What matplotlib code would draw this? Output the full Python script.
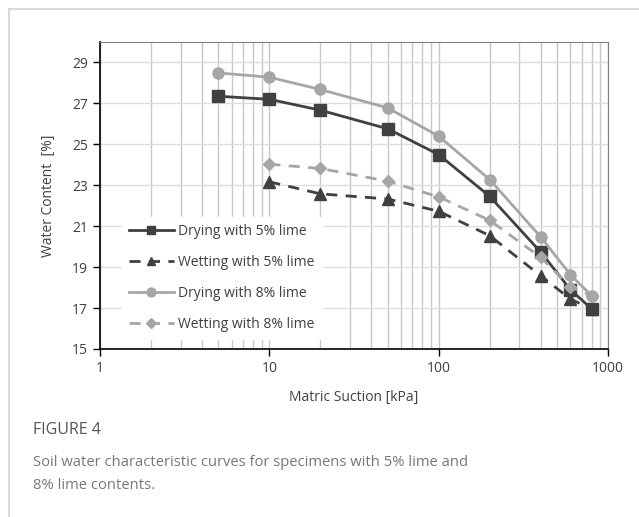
import matplotlib.pyplot as plt
from matplotlib.lines import Line2D
from matplotlib.ticker import FixedLocator, NullFormatter

# matric suction [kPa]
suction_dry = [5, 10, 20, 50, 100, 200, 400, 600, 800]
suction_wet = [10, 20, 50, 100, 200, 400, 600, 800]

# water content [%]
dry5 = [27.35, 27.2, 26.67, 25.76, 24.5, 22.46, 19.74, 17.9, 16.96]
wet5 = [23.17, 22.58, 22.33, 21.73, 20.54, 18.58, 17.44, 16.96]
dry8 = [28.49, 28.28, 27.68, 26.78, 25.4, 23.28, 20.48, 18.63, 17.6]
wet8 = [24.03, 23.82, 23.2, 22.43, 21.29, 19.48, 18.03, 17.6]

labels = ["Drying with 5% lime", "Wetting with 5% lime",
          "Drying with 8% lime", "Wetting with 8% lime"]

dark = "#404040"
light = "#a6a6a6"

plt.rcParams['font.family'] = ['Open Sans', 'DejaVu Sans']

fig = plt.figure(figsize=(6.39, 5.17), dpi=100)

# card border
fig.add_artist(Line2D([9/639, 1], [1-9/517, 1-9/517], color="#d3d3d3", lw=1.2))
fig.add_artist(Line2D([9/639, 9/639], [0, 1-9/517], color="#d3d3d3", lw=1.2))

ax = fig.add_axes([100/639, 1-349/517, 508/639, 307/517])
ax.set_xscale('log')
ax.set_xlim(1, 1000)
ax.set_ylim(15, 30)
ax.set_yticks([15, 17, 19, 21, 23, 25, 27, 29])
ax.xaxis.set_major_locator(FixedLocator([1, 10, 100, 1000]))
ax.set_xticklabels(["1", "10", "100", "1000"])
minor = [m * d for d in [1, 10, 100] for m in range(2, 10)]
ax.xaxis.set_minor_locator(FixedLocator(minor))
ax.xaxis.set_minor_formatter(NullFormatter())
ax.tick_params(axis='x', which='minor', length=0)
ax.tick_params(axis='both', which='major', length=5, width=1, colors="#000000",
               labelcolor="#404040", labelsize=10)

ax.grid(True, axis='x', which='both', color="#c8c8c8", lw=1)
ax.grid(True, axis='y', which='major', color="#dedede", lw=1)
ax.set_axisbelow(True)

for s in ['left', 'bottom']:
    ax.spines[s].set_color("#000000")
    ax.spines[s].set_linewidth(1.2)
ax.spines['top'].set_color("#808080")
ax.spines['right'].set_color("#808080")

ax.plot(suction_dry, dry5, color=dark, lw=2, marker='s', ms=8, label=labels[0])
ax.plot(suction_wet, wet5, color=dark, lw=2, ls=(0, (4, 3)), marker='^', ms=8, label=labels[1])
ax.plot(suction_dry, dry8, color=light, lw=2, marker='o', ms=8, label=labels[2])
ax.plot(suction_wet, wet8, color=light, lw=2, ls=(0, (4, 3)), marker='D', ms=6, label=labels[3])

leg = ax.legend(loc='lower left', bbox_to_anchor=(0.03, 0.01), frameon=True,
                fontsize=10, handlelength=3.2, labelspacing=1.15, borderpad=0.5,
                handletextpad=0.35, markerscale=0.8)
leg.get_frame().set_edgecolor('white')
leg.get_frame().set_facecolor('white')
leg.get_frame().set_alpha(1)
for t in leg.get_texts():
    t.set_color("#404040")

ax.set_ylabel("Water Content  [%]", color="#404040", fontsize=10, labelpad=12)
ax.set_xlabel("Matric Suction [kPa]", color="#404040", fontsize=10, labelpad=10)

fig.text(33/639, 1-430/517, "FIGURE 4", fontsize=11.5, color="#555555",
         va='center', ha='left')
fig.text(33/639, 1-474/517,
         "Soil water characteristic curves for specimens with 5% lime and\n8% lime contents.",
         fontsize=10.6, color="#777777", va='center', ha='left', linespacing=1.75)

fig.savefig("out.png", dpi=100)
